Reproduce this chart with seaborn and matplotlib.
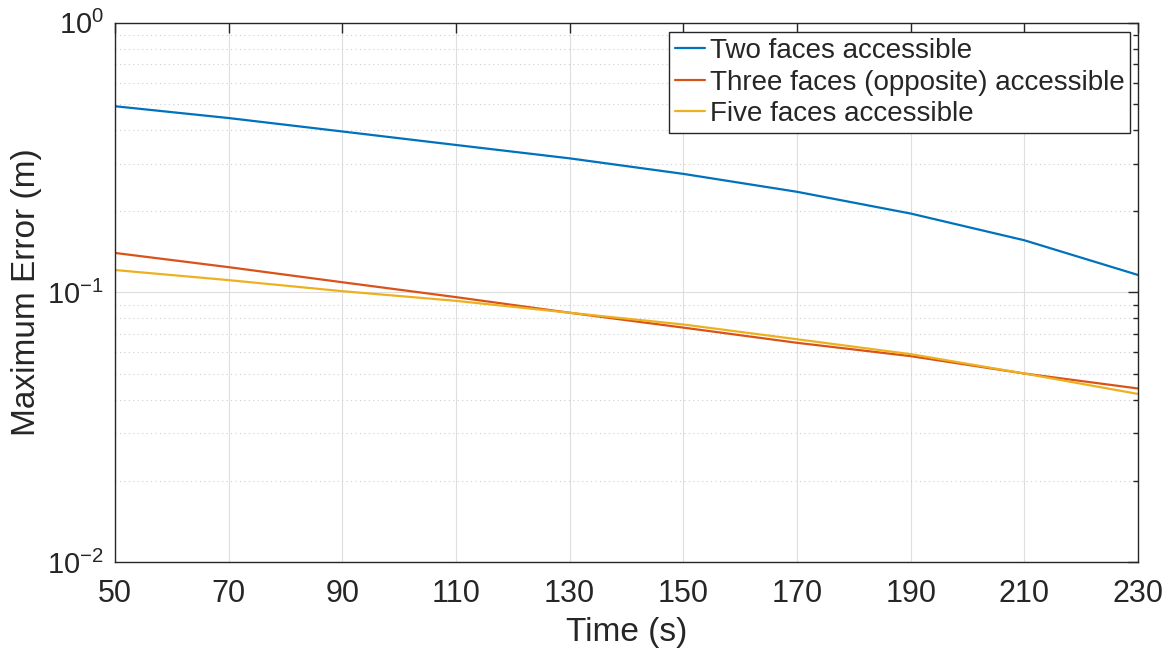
import matplotlib
matplotlib.use("Agg")
import matplotlib.pyplot as plt
import matplotlib.ticker as mticker
import numpy as np
import pandas as pd
import seaborn as sns

time_s = [50, 70, 90, 110, 130, 150, 170, 190, 210, 230]
two_faces = [0.49, 0.443, 0.395, 0.352, 0.314, 0.275, 0.236, 0.196, 0.156, 0.116]
three_faces = [0.140, 0.124, 0.109, 0.096, 0.084, 0.074, 0.065, 0.058, 0.050, 0.044]
five_faces = [0.121, 0.111, 0.101, 0.093, 0.084, 0.076, 0.067, 0.059, 0.050, 0.042]
series_names = ["Two faces accessible", "Three faces (opposite) accessible", "Five faces accessible"]
x_ticks = [50, 70, 90, 110, 130, 150, 170, 190, 210, 230]

df = pd.concat([
    pd.DataFrame({"Time": time_s, "Error": two_faces, "Series": series_names[0]}),
    pd.DataFrame({"Time": time_s, "Error": three_faces, "Series": series_names[1]}),
    pd.DataFrame({"Time": time_s, "Error": five_faces, "Series": series_names[2]}),
])

sns.set_theme(style="white")
plt.rcParams["font.family"] = ["Liberation Sans", "DejaVu Sans"]
plt.rcParams["mathtext.default"] = "regular"

fig = plt.figure(figsize=(11.71, 6.54), dpi=100)
ax = fig.add_axes([115 / 1171, 1 - 562 / 654, (1138 - 115) / 1171, (562 - 22.7) / 654])

palette = ["#0072BD", "#D95319", "#EDB120"]
sns.lineplot(data=df, x="Time", y="Error", hue="Series", palette=palette,
             linewidth=1.6, ax=ax, legend=True)

ax.set_yscale("log")
ax.set_xlim(50, 230)
ax.set_ylim(0.01, 1)
ax.set_xticks(x_ticks)
ax.set_xticklabels([str(t) for t in x_ticks])
ax.yaxis.set_major_locator(mticker.LogLocator(base=10, numticks=10))
ax.yaxis.set_minor_locator(mticker.LogLocator(base=10, subs=np.arange(2, 10), numticks=20))
ax.yaxis.set_major_formatter(mticker.FuncFormatter(lambda v, p: r"$10^{%d}$" % int(round(np.log10(v)))))
ax.yaxis.set_minor_formatter(mticker.NullFormatter())

ax.grid(True, which="major", axis="both", color="#dedede", linewidth=0.8, linestyle="-")
ax.grid(True, which="minor", axis="y", color="#cfcfcf", linewidth=0.8, linestyle=(0, (1, 3)))
ax.set_axisbelow(True)

ax.tick_params(axis="both", which="both", direction="in", top=True, right=True,
               color="#262626", labelcolor="#262626")
ax.tick_params(axis="x", which="major", length=7, width=1, labelsize=22, pad=12)
ax.tick_params(axis="y", which="major", length=7, width=1, labelsize=21, pad=8)
ax.tick_params(axis="y", which="minor", length=3.6, width=1)
for s in ax.spines.values():
    s.set_color("#262626")
    s.set_linewidth(1)

ax.set_xlabel("Time (s)", fontsize=24, color="#262626", labelpad=6)
ax.set_ylabel("Maximum Error (m)", fontsize=24, color="#262626", labelpad=4)

leg = ax.legend(loc="upper right", bbox_to_anchor=(0.992, 0.982), fontsize=20,
                frameon=True, fancybox=False, edgecolor="#262626", framealpha=1,
                handlelength=1.1, handletextpad=0.15, borderpad=0.2, labelspacing=0.2,
                borderaxespad=0)
leg.get_frame().set_linewidth(1)

fig.savefig("out.png", dpi=100)
